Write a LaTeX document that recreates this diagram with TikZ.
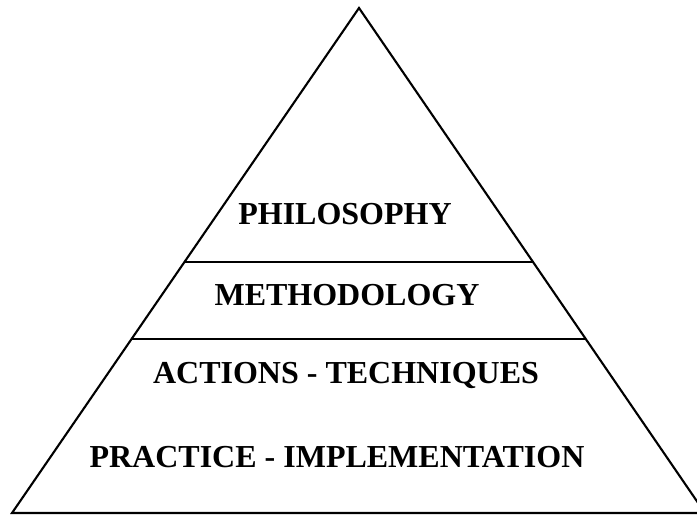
\documentclass[tikz,border=0pt]{standalone}
\usepackage{fontspec}
\setmainfont{Liberation Serif}
\usetikzlibrary{calc}

\begin{document}
\begin{tikzpicture}[
        x=1pt, y=-1pt,
        edge/.style={line width=2.1pt, line join=miter},
        level/.style={font=\bfseries\fontsize{32}{38}\selectfont, inner sep=0pt, anchor=center}
    ]
        \useasboundingbox (0,0) rectangle (697,516);
        \coordinate (apex) at (359,8);
        \coordinate (left) at (12,513);
        \coordinate (right) at (705,513);
        \coordinate (ul) at ($(left)!0.497!(apex)$);
        \coordinate (ur) at ($(right)!0.497!(apex)$);
        \coordinate (ll) at ($(left)!0.345!(apex)$);
        \coordinate (lr) at ($(right)!0.345!(apex)$);

        \draw[edge] (left) -- (apex) -- (right) -- cycle;
        \draw[edge] (ul) -- (ur);
        \draw[edge] (ll) -- (lr);

        \node[level] (philo) at (345,214) {PHILOSOPHY};
        \node[level] (method) at (347,295) {METHODOLOGY};
        \node[level] (actions) at (346,375) {ACTIONS - TECHNIQUES};
        \node[level] (practice) at (337,457) {PRACTICE - IMPLEMENTATION};
    \end{tikzpicture}
\end{document}
